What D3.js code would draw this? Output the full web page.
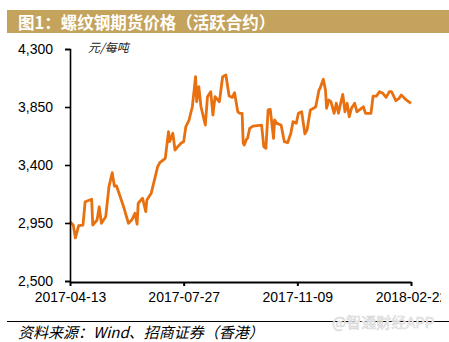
<!DOCTYPE html>
<html>
<head>
<meta charset="utf-8">
<script src="https://cdn.jsdelivr.net/npm/d3@7"></script>
<style>
  html, body { margin: 0; padding: 0; background: #fff; }
  svg { display: block; }
</style>
</head>
<body>
<svg id="chart" width="449" height="342"></svg>
<script>
const titleText = "图1：螺纹钢期货价格（活跃合约）";
const unitText = "元/每吨";
const sourceText = "资料来源：Wind、招商证券（香港）";
const watermarkText = "@智通财经APP";

const yTicks = [2500, 2950, 3400, 3850, 4300];
const xTickLabels = ["2017-04-13", "2017-07-27", "2017-11-09", "2018-02-22"];

const dates = [
  "2017-04-13","2017-04-16","2017-04-18","2017-04-21","2017-04-25","2017-04-27","2017-05-03","2017-05-04",
  "2017-05-08","2017-05-10","2017-05-12","2017-05-16","2017-05-19","2017-05-22","2017-05-24","2017-05-26",
  "2017-06-01","2017-06-06","2017-06-09","2017-06-12","2017-06-14","2017-06-15","2017-06-19","2017-06-22",
  "2017-06-23","2017-06-27","2017-07-03","2017-07-05","2017-07-10","2017-07-13","2017-07-14","2017-07-17",
  "2017-07-19","2017-07-21","2017-07-25","2017-07-27","2017-07-29","2017-08-01","2017-08-04","2017-08-07",
  "2017-08-08","2017-08-10","2017-08-12","2017-08-16","2017-08-18","2017-08-21","2017-08-23","2017-08-25",
  "2017-08-29","2017-09-01","2017-09-04","2017-09-07","2017-09-10","2017-09-12","2017-09-15","2017-09-17",
  "2017-09-19","2017-09-20","2017-09-21","2017-09-23","2017-09-24","2017-09-26","2017-09-29","2017-10-07",
  "2017-10-09","2017-10-11","2017-10-13","2017-10-15","2017-10-18","2017-10-19","2017-10-21","2017-10-25",
  "2017-10-28","2017-10-31","2017-11-03","2017-11-05","2017-11-08","2017-11-10","2017-11-13","2017-11-16",
  "2017-11-18","2017-11-21","2017-11-24","2017-11-26","2017-11-29","2017-11-30","2017-12-03","2017-12-05",
  "2017-12-06","2017-12-08","2017-12-10","2017-12-13","2017-12-15","2017-12-17","2017-12-19","2017-12-21",
  "2017-12-23","2017-12-25","2017-12-27","2017-12-29","2018-01-01","2018-01-03","2018-01-06","2018-01-09",
  "2018-01-11","2018-01-16","2018-01-18","2018-01-21","2018-01-24","2018-01-27","2018-01-30","2018-02-02",
  "2018-02-04","2018-02-08","2018-02-11","2018-02-13","2018-02-17","2018-02-22"
];
const prices = [
  2960,2934,2834,2929,2934,3115,3134,2934,
  2973,3076,2948,2999,3232,3340,3237,3237,
  3090,2948,2973,3025,2940,3103,3142,3038,
  3128,3180,3387,3418,3452,3659,3581,3646,
  3516,3537,3573,3581,3697,3749,3852,4085,
  3891,4008,3852,3710,3930,3969,3788,3930,
  3891,4085,4098,3935,3925,3961,3813,3801,
  3801,3568,3555,3599,3607,3684,3702,3710,
  3542,3530,3827,3832,3607,3749,3723,3710,
  3581,3573,3646,3736,3723,3801,3813,3641,
  3672,3827,3840,3852,3982,3995,4065,3982,
  3840,3904,3891,3801,3879,3801,3879,3948,
  3813,3879,3775,3840,3879,3813,3832,3852,
  3801,3801,3935,3935,3969,3956,3925,3969,
  3969,3899,3917,3943,3910,3879
];

const parse = d3.timeParse("%Y-%m-%d");
const data = dates.map((d, i) => ({ date: parse(d), value: prices[i] }));

const svg = d3.select("#chart");
const W = 449;

svg.append("defs").append("clipPath").attr("id", "labelclip")
  .append("rect").attr("x", 0).attr("y", 0).attr("width", 441).attr("height", 342);

// Title bar
svg.append("rect").attr("x", 7).attr("y", 10).attr("width", W - 7).attr("height", 23)
  .attr("fill", "#c4a35c");
svg.append("text").attr("x", 18).attr("y", 28.5)
  .attr("font-family", "'Noto Sans CJK SC', sans-serif")
  .attr("font-size", 16.5).attr("font-weight", "bold").attr("fill", "#fff")
  .text(titleText);

const x = d3.scaleTime()
  .domain([parse(xTickLabels[0]), parse(xTickLabels[xTickLabels.length - 1])])
  .range([70, 411]);
const y = d3.scaleLinear().domain([2500, 4300]).range([281, 49]);

// Line
const line = d3.line().x(d => x(d.date)).y(d => y(d.value)).curve(d3.curveLinear);
svg.append("path").datum(data)
  .attr("d", line)
  .attr("fill", "none")
  .attr("stroke", "#e8700f")
  .attr("stroke-width", 2.8)
  .attr("stroke-linejoin", "round");

// Y axis
const yAxis = d3.axisLeft(y).tickValues(yTicks).tickSize(5).tickPadding(12)
  .tickFormat(d3.format(","));
const gy = svg.append("g").attr("transform", "translate(70,0)").call(yAxis);
gy.select(".domain").attr("stroke", "#000").attr("stroke-width", 1.6);
gy.selectAll(".tick line").attr("stroke", "#000").attr("stroke-width", 1.6);
gy.selectAll("text").attr("font-family", "'Liberation Sans', Arial, sans-serif")
  .attr("font-size", 14).attr("fill", "#000");

// X axis
const xAxis = d3.axisBottom(x).tickValues(xTickLabels.map(parse)).tickSize(4).tickPadding(6)
  .tickSizeOuter(0)
  .tickFormat(d3.timeFormat("%Y-%m-%d"));
const gxWrap = svg.append("g").attr("clip-path", "url(#labelclip)");
const gx = gxWrap.append("g").attr("transform", "translate(0,282)").call(xAxis);
gx.select(".domain").attr("stroke", "#000").attr("stroke-width", 2.2);
gx.selectAll(".tick line").attr("stroke", "#000").attr("stroke-width", 2);
gx.selectAll("text").attr("font-family", "'Liberation Sans', Arial, sans-serif")
  .attr("font-size", 14).attr("fill", "#000");

// Unit label
svg.append("text").attr("x", 88).attr("y", 52)
  .attr("font-family", "'Noto Sans CJK SC', sans-serif")
  .attr("font-size", 12).attr("font-style", "italic").attr("fill", "#222")
  .text(unitText);

// Bottom rule
svg.append("line").attr("x1", 7).attr("x2", W).attr("y1", 321.5).attr("y2", 321.5)
  .attr("stroke", "#000").attr("stroke-width", 1);

// Watermark
svg.append("text").attr("x", 332).attr("y", 328)
  .attr("font-family", "'Noto Sans CJK SC', sans-serif")
  .attr("font-size", 15).attr("fill", "#f2f2f2").attr("stroke", "#d8d8d8").attr("stroke-width", 0.6)
  .text(watermarkText);

// Source
svg.append("text").attr("x", 18).attr("y", 338)
  .attr("font-family", "'Noto Sans CJK SC', sans-serif")
  .attr("font-size", 15).attr("font-style", "italic").attr("fill", "#000")
  .text(sourceText);
</script>
</body>
</html>
